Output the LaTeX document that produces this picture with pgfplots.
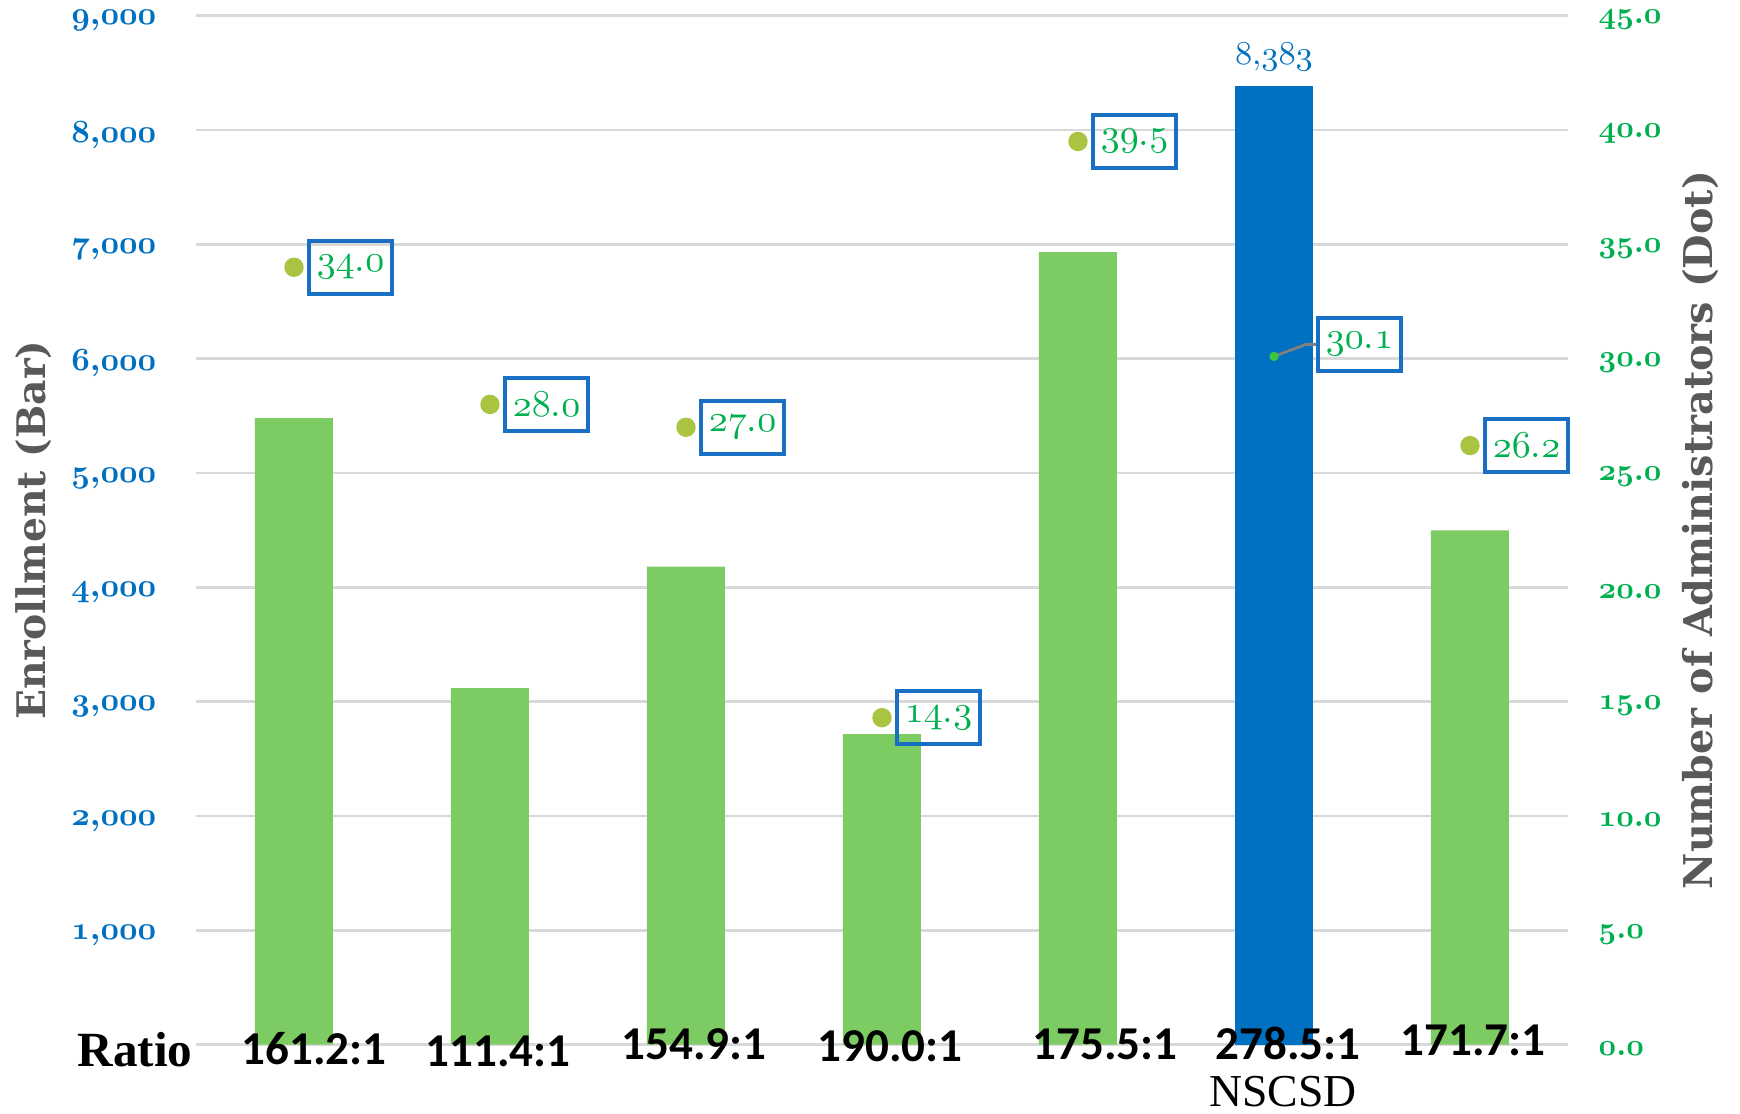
\documentclass[border=0pt]{standalone}
\usepackage{fix-cm}
\usepackage{pgfplots}
\pgfplotsset{compat=1.18}
\usepackage{fontspec}
\newfontfamily\carlito{Carlito}
\newfontfamily\lserif{Liberation Serif}
\newfontfamily\dvserif{DejaVu Serif}
\newcommand\osb[1]{{\usefont{OML}{cmm}{b}{it}#1}}
\newcommand\osm[1]{{\usefont{OML}{lmm}{m}{it}#1}}
\newcommand\tk[2]{\osb{#1},\osb{#2}}
\newcommand\tr[2]{\osb{#1}.\osb{#2}}
\definecolor{barg}{RGB}{125,203,99}
\definecolor{barb}{RGB}{0,112,192}
\definecolor{tickb}{RGB}{0,112,192}
\definecolor{tickg}{RGB}{0,176,80}
\definecolor{dotc}{RGB}{169,196,64}
\definecolor{dotg}{RGB}{60,200,60}
\definecolor{boxb}{RGB}{24,111,196}
\definecolor{labg}{RGB}{89,89,89}
\definecolor{gridc}{RGB}{217,217,217}
\begin{document}
\begin{tikzpicture}
\path[use as bounding box] (-1.96cm,-0.69cm) rectangle (15.44cm,10.447cm);
\begin{axis}[
  scale only axis, width=13.72cm, height=10.29cm,
  xmin=-0.5, xmax=6.5, ymin=0, ymax=9000,
  axis line style={draw=none},
  major tick length=0pt,
  ymajorgrids, grid style={gridc, line width=0.8pt},
  ytick={0,1000,2000,3000,4000,5000,6000,7000,8000,9000},
  yticklabels={,\tk{1}{000},\tk{2}{000},\tk{3}{000},\tk{4}{000},\tk{5}{000},\tk{6}{000},\tk{7}{000},\tk{8}{000},\tk{9}{000}},
  yticklabel style={text=tickb, font=\bfseries\fontsize{9.2}{11}\selectfont, anchor=east, inner sep=0pt, xshift=-0.39cm, yshift=-0.05cm},
  xtick=\empty,
  every axis y label/.style={at={(axis description cs:-0.1181,0.5)}, rotate=90, anchor=center},
  ylabel={Enrollment (Bar)},
  ylabel style={text=labg, font=\dvserif\bfseries\fontsize{11.2}{12}\selectfont},
]
\addplot[ybar, bar width=0.78cm, bar shift=0pt, fill=barg, draw=none]
  coordinates {(0,5481) (1,3119) (2,4182) (3,2717) (4,6932) (6,4499)};
\addplot[ybar, bar width=0.78cm, bar shift=0pt, fill=barb, draw=none,
  nodes near coords={\osm{8},\osm{383}},
  nodes near coords style={text=tickb, font=\fontsize{9.5}{10}\selectfont, anchor=south, inner sep=0pt, yshift=0.15cm}]
  coordinates {(5,8383)};
\end{axis}
\begin{axis}[
  scale only axis, width=13.72cm, height=10.29cm,
  xmin=-0.5, xmax=6.5, ymin=0, ymax=45,
  clip=false,
  axis x line*=bottom, axis y line*=right,
  axis line style={draw=none},
  major tick length=0pt,
  xtick={0,1,2,3,4,5,6},
  xticklabels={\hspace*{0.40cm}161.2:1,\hspace*{0.16cm}\raisebox{-0.02cm}{111.4:1},\hspace*{0.16cm}\raisebox{0.05cm}{154.9:1},\hspace*{0.16cm}\raisebox{0.03cm}{190.0:1},\hspace*{0.54cm}\raisebox{0.05cm}{175.5:1},\hspace*{0.28cm}\raisebox{0.05cm}{278.5:1},\hspace*{0.06cm}\raisebox{0.09cm}{171.7:1}},
  xticklabel style={anchor=base, text=black, font=\carlito\bfseries\fontsize{13.4}{14}\selectfont, yshift=-0.2cm, inner sep=0pt},
  ytick={0,5,10,15,20,25,30,35,40,45},
  yticklabels={\tr{0}{0},\tr{5}{0},\tr{10}{0},\tr{15}{0},\tr{20}{0},\tr{25}{0},\tr{30}{0},\tr{35}{0},\tr{40}{0},\tr{45}{0}},
  yticklabel style={text=tickg, font=\bfseries\fontsize{8.7}{10}\selectfont, anchor=west, inner sep=0pt, xshift=0.30cm, yshift=-0.04cm},
  every axis y label/.style={at={(axis description cs:1.0969,0.5)}, rotate=90, anchor=center},
  ylabel={Number of Administrators (Dot)},
  ylabel style={text=labg, font=\dvserif\bfseries\fontsize{11.3}{12}\selectfont},
]
\addplot[only marks, mark=*, mark size=2.56pt, color=dotc, point meta=explicit symbolic,
  nodes near coords,
  nodes near coords style={anchor=west, xshift=0.13cm, draw=boxb, line width=1.1pt, text=tickg, font=\fontsize{10.8}{11}\selectfont, inner xsep=0.08cm, inner ysep=0pt, minimum height=0.53cm}]
  coordinates {(0,34.0) [\osm{34}.\osm{0}] (1,28.0) [\osm{28}.\osm{0}] (2,27.0) [\osm{27}.\osm{0}] (3,14.3) [\osm{14}.\osm{3}] (4,39.5) [\osm{39}.\osm{5}] (6,26.2) [\osm{26}.\osm{2}]};
\draw[gray, line width=0.8pt] (axis cs:5,30.1) -- ([xshift=0.32cm,yshift=0.12cm]axis cs:5,30.1) -- ([xshift=0.43cm,yshift=0.12cm]axis cs:5,30.1);
\addplot[only marks, mark=*, mark size=1.1pt, color=dotg, point meta=explicit symbolic,
  nodes near coords,
  nodes near coords style={anchor=west, xshift=0.42cm, yshift=0.12cm, draw=boxb, line width=1.1pt, text=tickg, font=\fontsize{10.8}{11}\selectfont, inner xsep=0.08cm, inner ysep=0pt, minimum height=0.53cm}]
  coordinates {(5,30.1) [\osm{30}.\osm{1}]};
\node[font=\lserif\bfseries\fontsize{14}{14}\selectfont, text=black, anchor=center] at (axis description cs:-0.0445,-0.005) {Ratio};
\node[font=\lserif\fontsize{13}{13}\selectfont, text=black, anchor=center] at (axis description cs:0.7923,-0.0457) {NSCSD};
\end{axis}
\end{tikzpicture}
\end{document}
